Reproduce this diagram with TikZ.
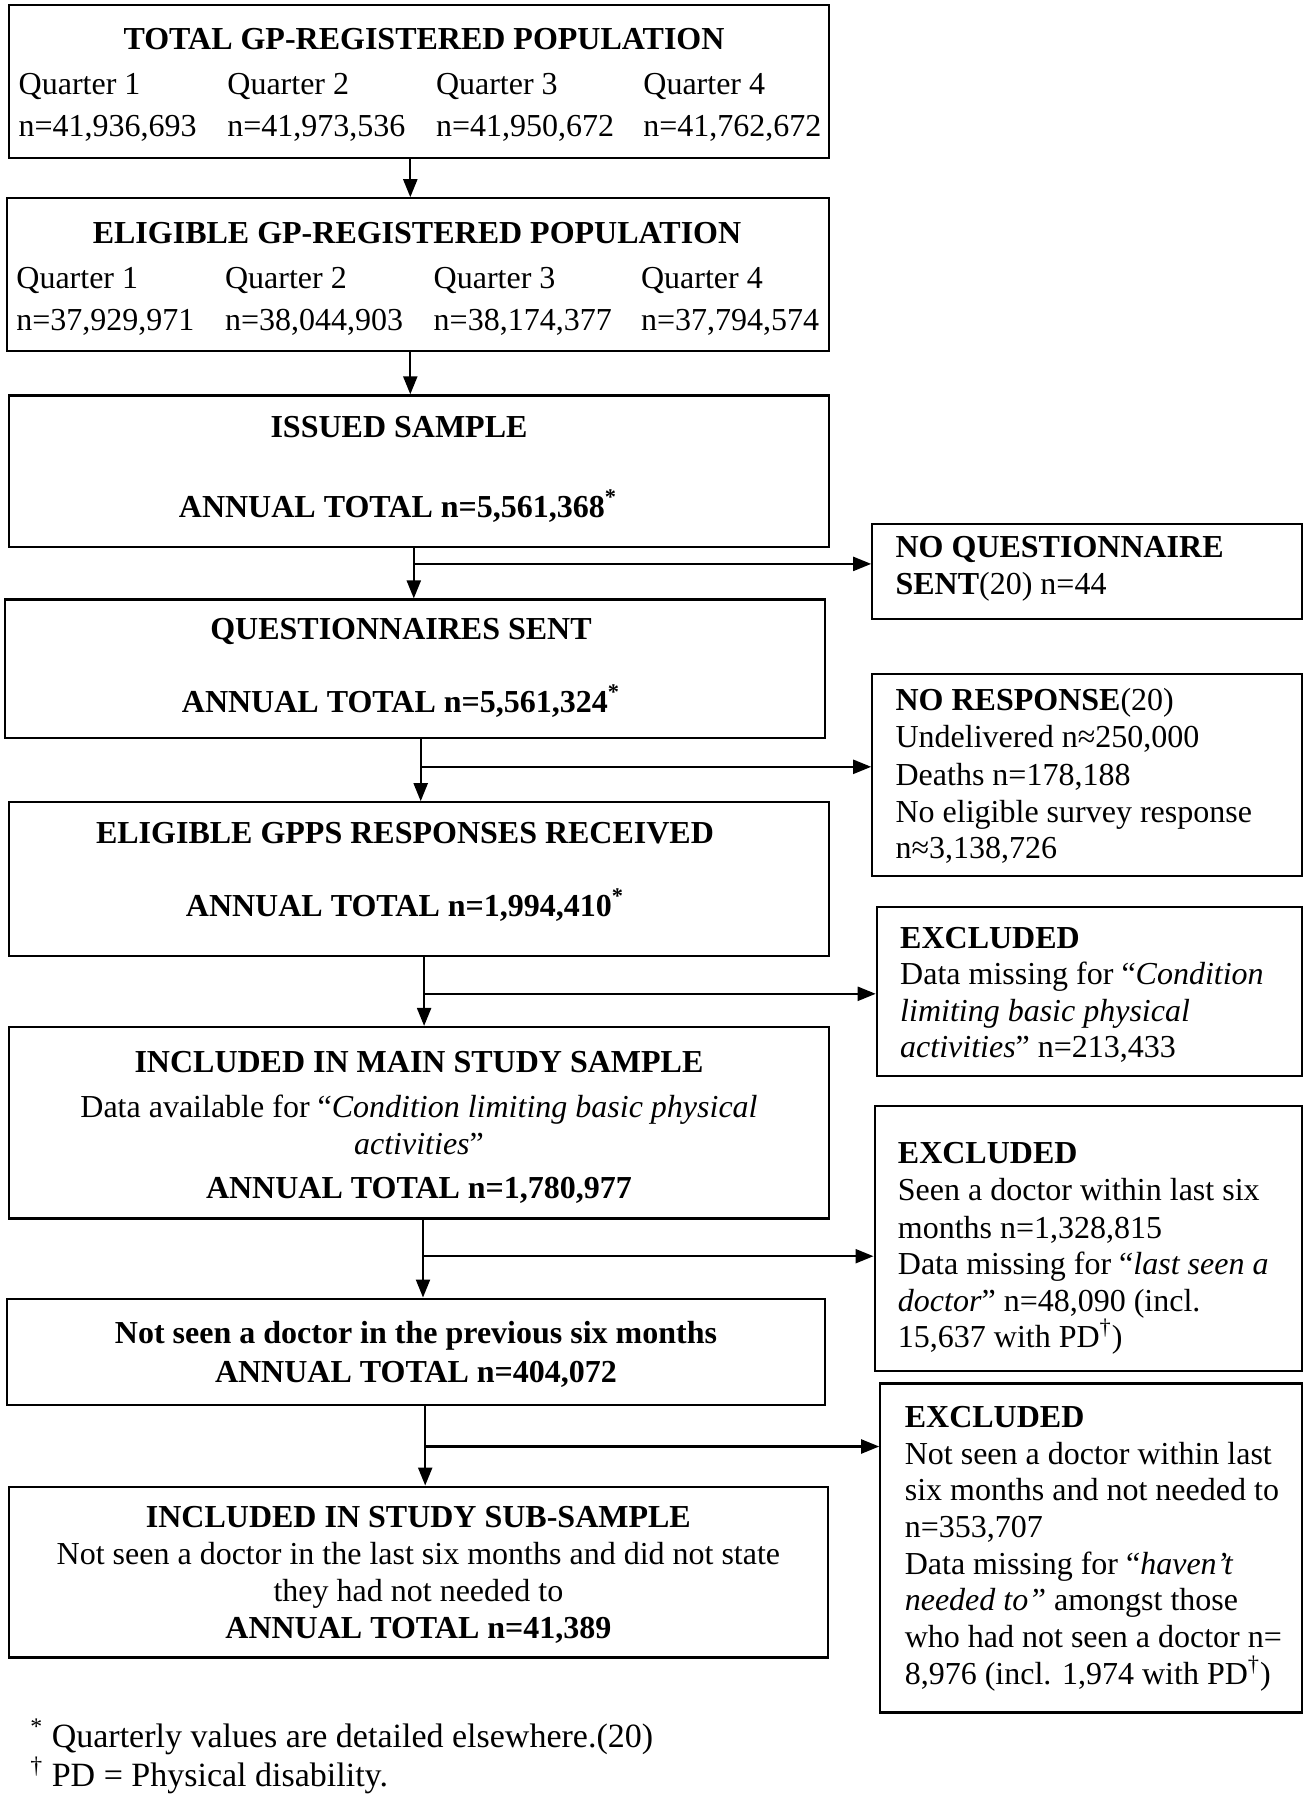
\documentclass[tikz,border=0pt]{standalone}
\usepackage{fontspec}
\setmainfont{Liberation Serif}
\usetikzlibrary{arrows.meta,fit}
\tikzset{
  box/.style={draw, line width=1.1pt, inner sep=0pt},
  txt/.style={inner sep=0pt, font=\fontsize{16}{18.4}\selectfont},
  ctr/.style={txt, anchor=base},
  lft/.style={txt, anchor=base west},
  foot/.style={inner sep=0pt, anchor=base west, font=\fontsize{17}{19}\selectfont},
  arr/.style={line width=1.1pt, -{Triangle[length=9pt,width=7pt]}}
}
\begin{document}
\begin{tikzpicture}[x=0.5pt,y=-0.5pt]
\useasboundingbox (0,0) rectangle (1309,1800);
% ---------- left column boxes
\node[box, fit={(9.2,4.6) (828.7,158.2)}] (b1) {};
\node[box, fit={(6.9,198.3) (828.7,350.7)}] (b2) {};
\node[box, fit={(9.2,395.4) (828.7,546.7)}] (b3) {};
\node[box, fit={(4.6,599.5) (825.3,738.2)}] (b4) {};
\node[box, fit={(9.2,802.3) (828.7,956)}] (b5) {};
\node[box, fit={(9.2,1027) (828.7,1218.4)}] (b6) {};
\node[box, fit={(6.9,1298.6) (825.3,1405.3)}] (b7) {};
\node[box, fit={(9.2,1486.6) (827.6,1657.4)}] (b8) {};
% ---------- right column boxes
\node[box, fit={(872.3,523.8) (1302.1,619)}] (nq) {};
\node[box, fit={(872.3,674) (1302.1,875.7)}] (nr) {};
\node[box, fit={(876.8,906.6) (1302.1,1076.3)}] (ex1) {};
\node[box, fit={(874.6,1106.1) (1302.1,1370.9)}] (ex2) {};
\node[box, fit={(880.3,1383.5) (1302.1,1712.4)}] (ex3) {};
% ---------- box 1 text
\node[ctr] (t1) at (424,49.6) {\bfseries TOTAL GP-REGISTERED POPULATION};
\node[lft] (t1a) at (18.3,94.3) {Quarter 1};
\node[lft] (t1b) at (227,94.3) {Quarter 2};
\node[lft] (t1c) at (435.6,94.3) {Quarter 3};
\node[lft] (t1d) at (643,94.3) {Quarter 4};
\node[lft] (n1a) at (18.3,136.6) {n=41,936,693};
\node[lft] (n1b) at (227,136.6) {n=41,973,536};
\node[lft] (n1c) at (435.6,136.6) {n=41,950,672};
\node[lft] (n1d) at (643,136.6) {n=41,762,672};
% ---------- box 2 text
\node[ctr] (t2) at (417,243.3) {\bfseries ELIGIBLE GP-REGISTERED POPULATION};
\node[lft] (t2a) at (16,288) {Quarter 1};
\node[lft] (t2b) at (224.7,288) {Quarter 2};
\node[lft] (t2c) at (433.3,288) {Quarter 3};
\node[lft] (t2d) at (640.7,288) {Quarter 4};
\node[lft] (n2a) at (16,330.4) {n=37,929,971};
\node[lft] (n2b) at (224.7,330.4) {n=38,044,903};
\node[lft] (n2c) at (433.3,330.4) {n=38,174,377};
\node[lft] (n2d) at (640.7,330.4) {n=37,794,574};
% ---------- box 3..8 text
\node[ctr] (t3) at (399,437) {\bfseries ISSUED SAMPLE};
\node[ctr] (n3) at (398,517.2) {\bfseries ANNUAL TOTAL n=5,561,368\textsuperscript{*}};
\node[ctr] (t4) at (401,639.9) {\bfseries QUESTIONNAIRES SENT};
\node[ctr] (n4) at (401,712.1) {\bfseries ANNUAL TOTAL n=5,561,324\textsuperscript{*}};
\node[ctr] (t5) at (405,843.9) {\bfseries ELIGIBLE GPPS RESPONSES RECEIVED};
\node[ctr] (n5) at (405,916.1) {\bfseries ANNUAL TOTAL n=1,994,410\textsuperscript{*}};
\node[ctr] (t6) at (419,1072) {\bfseries INCLUDED IN MAIN STUDY SAMPLE};
\node[ctr] (t6a) at (419,1117.8) {Data available for “\textit{Condition limiting basic physical}};
\node[ctr] (t6b) at (419,1154.5) {\textit{activities}”};
\node[ctr] (n6) at (419,1198.1) {\bfseries ANNUAL TOTAL n=1,780,977};
\node[ctr] (t7) at (416,1343.6) {\bfseries Not seen a doctor in the previous six months};
\node[ctr] (n7) at (416,1382.6) {\bfseries ANNUAL TOTAL n=404,072};
\node[ctr] (t8) at (418.4,1527) {\bfseries INCLUDED IN STUDY SUB-SAMPLE};
\node[ctr] (t8a) at (418.4,1564.9) {Not seen a doctor in the last six months and did not state};
\node[ctr] (t8b) at (418.4,1601.6) {they had not needed to};
\node[ctr] (n8) at (418.4,1638.2) {\bfseries ANNUAL TOTAL n=41,389};
% ---------- right boxes text
\node[lft] (q1) at (895.2,557.3) {\bfseries NO QUESTIONNAIRE};
\node[lft] (q2) at (895.2,594) {\textbf{SENT}(20) n=44};
\node[lft] (r1) at (895.2,710.9) {\textbf{NO RESPONSE}(20)};
\node[lft] (r2) at (895.2,747.6) {Undelivered n≈250,000};
\node[lft] (r3) at (895.2,785.4) {Deaths n=178,188};
\node[lft] (r4) at (895.2,822.1) {No eligible survey response};
\node[lft] (r5) at (895.2,858.8) {n≈3,138,726};
\node[lft] (e1a) at (899.8,948.2) {\bfseries EXCLUDED};
\node[lft] (e1b) at (899.8,984.9) {Data missing for “\textit{Condition}};
\node[lft] (e1c) at (899.8,1021.6) {\textit{limiting basic physical}};
\node[lft] (e1d) at (899.8,1057.1) {\textit{activities}” n=213,433};
\node[lft] (e2a) at (897.5,1163.6) {\bfseries EXCLUDED};
\node[lft] (e2b) at (897.5,1200.4) {Seen a doctor within last six};
\node[lft] (e2c) at (897.5,1238.2) {months n=1,328,815};
\node[lft] (e2d) at (897.5,1274.9) {Data missing for “\textit{last seen a}};
\node[lft] (e2e) at (897.5,1311.6) {\textit{doctor}” n=48,090 (incl.};
\node[lft] (e2f) at (897.5,1347.1) {15,637 with PD\textsuperscript{†})};
\node[lft] (e3a) at (904.4,1427.3) {\bfseries EXCLUDED};
\node[lft] (e3b) at (904.4,1464) {Not seen a doctor within last};
\node[lft] (e3c) at (904.4,1500.7) {six months and not needed to};
\node[lft] (e3d) at (904.4,1537.3) {n=353,707};
\node[lft] (e3e) at (904.4,1574) {Data missing for “\textit{haven’t}};
\node[lft] (e3f) at (904.4,1610.7) {\textit{needed to”} amongst those};
\node[lft] (e3g) at (904.4,1647.4) {who had not seen a doctor n=};
\node[lft] (e3h) at (904.4,1684.1) {8,976 (incl. 1,974 with PD\textsuperscript{†})};
% ---------- footnotes
\node[foot] (f1) at (30,1747) {\textsuperscript{*} Quarterly values are detailed elsewhere.(20)};
\node[foot] (f2) at (30,1786) {\textsuperscript{†} PD = Physical disability.};
% ---------- connectors
\coordinate (c1) at (410.3,0);
\coordinate (c2) at (410.3,0);
\coordinate (j3) at (413.8,563.9);
\coordinate (j4) at (420.7,766.8);
\coordinate (j5) at (424.1,993.8);
\coordinate (j6) at (423,1256.2);
\coordinate (j7) at (425.2,1446.5);
\draw[arr] (b1.south -| c1) -- (b2.north -| c1);
\draw[arr] (b2.south -| c2) -- (b3.north -| c2);
\draw[arr] (b3.south -| j3) -- (b4.north -| j3);
\draw[arr] (j3) -- (nq.west |- j3);
\draw[arr] (b4.south -| j4) -- (b5.north -| j4);
\draw[arr] (j4) -- (nr.west |- j4);
\draw[arr] (b5.south -| j5) -- (b6.north -| j5);
\draw[arr] (j5) -- (ex1.west |- j5);
\draw[arr] (b6.south -| j6) -- (b7.north -| j6);
\draw[arr] (j6) -- (ex2.west |- j6);
\draw[arr] (b7.south -| j7) -- (b8.north -| j7);
\draw[arr] (j7) -- (ex3.west |- j7);
\end{tikzpicture}
\end{document}
